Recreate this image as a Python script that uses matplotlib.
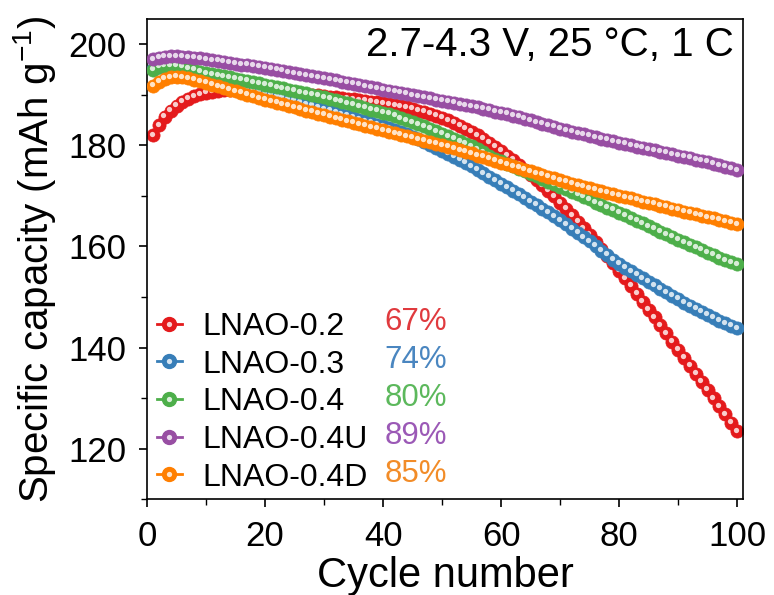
import matplotlib
matplotlib.use("Agg")
import matplotlib.pyplot as plt
from matplotlib.lines import Line2D
from matplotlib.legend_handler import HandlerTuple
from matplotlib.transforms import offset_copy
from matplotlib.ticker import MultipleLocator
import matplotlib.colors as mc

plt.rcParams['font.family'] = ['Liberation Sans', 'DejaVu Sans']

cycles = list(range(1, 101))

cap_02 = [182.0, 184.0, 185.6, 186.8, 187.8, 188.6, 189.2, 189.7, 190.1, 190.4,
          190.6, 190.8, 190.9, 191.0, 191.0, 191.0, 191.0, 190.9, 190.9, 190.8,
          190.7, 190.6, 190.5, 190.4, 190.3, 190.2, 190.1, 190.0, 189.9, 189.7,
          189.6, 189.5, 189.3, 189.2, 189.1, 188.9, 188.8, 188.6, 188.5, 188.3,
          188.1, 187.9, 187.7, 187.5, 187.2, 186.9, 186.6, 186.3, 185.9, 185.5,
          185.0, 184.5, 183.9, 183.3, 182.7, 182.0, 181.3, 180.5, 179.7, 178.9,
          178.0, 177.1, 176.2, 175.2, 174.2, 173.2, 172.1, 171.0, 169.9, 168.7,
          167.5, 166.2, 164.9, 163.6, 162.3, 160.9, 159.5, 158.1, 156.7, 155.2,
          153.7, 152.2, 150.6, 149.1, 147.5, 146.0, 144.4, 142.8, 141.2, 139.6,
          138.0, 136.4, 134.8, 133.2, 131.6, 130.0, 128.4, 126.8, 125.1, 123.4]

cap_03 = [195.2, 195.5, 195.6, 195.5, 195.3, 195.0, 194.7, 194.3, 193.9, 193.5,
          193.2, 192.9, 192.5, 192.2, 191.9, 191.5, 191.2, 190.9, 190.6, 190.3,
          190.0, 189.7, 189.4, 189.1, 188.8, 188.4, 188.1, 187.8, 187.5, 187.1,
          186.8, 186.5, 186.1, 185.8, 185.5, 185.1, 184.8, 184.5, 184.1, 183.8,
          183.4, 183.0, 182.6, 182.2, 181.7, 181.2, 180.7, 180.1, 179.5, 178.9,
          178.3, 177.7, 177.1, 176.5, 175.9, 175.2, 174.5, 173.8, 173.1, 172.4,
          171.7, 171.0, 170.3, 169.6, 168.9, 168.2, 167.5, 166.8, 166.0, 165.2,
          164.4, 163.5, 162.7, 161.8, 161.0, 160.1, 159.2, 158.3, 157.4, 156.6,
          155.8, 155.1, 154.4, 153.7, 153.0, 152.3, 151.6, 150.9, 150.2, 149.6,
          148.9, 148.3, 147.7, 147.1, 146.5, 145.9, 145.3, 144.8, 144.3, 143.8]

cap_04 = [195.0, 195.5, 195.8, 195.8, 195.7, 195.5, 195.2, 194.9, 194.6, 194.3,
          194.1, 193.9, 193.7, 193.5, 193.2, 193.0, 192.8, 192.5, 192.3, 192.0,
          191.8, 191.5, 191.3, 191.0, 190.8, 190.5, 190.3, 190.0, 189.8, 189.5,
          189.2, 188.9, 188.6, 188.3, 188.0, 187.7, 187.4, 187.1, 186.8, 186.5,
          186.2, 185.8, 185.4, 185.0, 184.6, 184.2, 183.8, 183.3, 182.8, 182.3,
          181.8, 181.3, 180.8, 180.3, 179.8, 179.2, 178.6, 178.0, 177.4, 176.9,
          176.4, 175.9, 175.4, 174.9, 174.4, 173.9, 173.3, 172.8, 172.3, 171.8,
          171.3, 170.8, 170.3, 169.8, 169.3, 168.7, 168.2, 167.7, 167.2, 166.7,
          166.2, 165.6, 165.1, 164.6, 164.0, 163.5, 162.9, 162.4, 161.9, 161.3,
          160.8, 160.3, 159.8, 159.3, 158.8, 158.3, 157.8, 157.3, 156.9, 156.5]

cap_04U = [197.0, 197.3, 197.5, 197.6, 197.6, 197.5, 197.4, 197.3, 197.2, 197.0,
           196.8, 196.7, 196.5, 196.4, 196.2, 196.0, 195.9, 195.7, 195.5, 195.3,
           195.1, 194.9, 194.7, 194.5, 194.3, 194.1, 193.9, 193.7, 193.5, 193.3,
           193.1, 192.9, 192.6, 192.4, 192.2, 192.0, 191.7, 191.5, 191.3, 191.0,
           190.8, 190.6, 190.4, 190.2, 189.9, 189.7, 189.5, 189.3, 189.0, 188.8,
           188.6, 188.4, 188.1, 187.9, 187.7, 187.5, 187.2, 187.0, 186.7, 186.5,
           186.2, 185.9, 185.6, 185.3, 185.0, 184.6, 184.3, 184.0, 183.7, 183.3,
           183.0, 182.7, 182.4, 182.2, 181.9, 181.6, 181.3, 181.1, 180.8, 180.5,
           180.3, 180.0, 179.7, 179.5, 179.2, 179.0, 178.7, 178.5, 178.2, 178.0,
           177.7, 177.5, 177.2, 176.9, 176.7, 176.4, 176.1, 175.8, 175.5, 175.1]

cap_04D = [191.8, 192.6, 193.2, 193.5, 193.6, 193.5, 193.3, 193.0, 192.7, 192.4,
           192.0, 191.7, 191.4, 191.0, 190.7, 190.4, 190.0, 189.7, 189.3, 189.0,
           188.7, 188.4, 188.1, 187.8, 187.5, 187.2, 186.9, 186.6, 186.3, 186.0,
           185.7, 185.4, 185.1, 184.8, 184.5, 184.2, 183.9, 183.6, 183.3, 183.0,
           182.7, 182.4, 182.1, 181.8, 181.5, 181.2, 180.9, 180.6, 180.3, 180.0,
           179.7, 179.4, 179.0, 178.7, 178.4, 178.0, 177.7, 177.3, 177.0, 176.6,
           176.3, 175.9, 175.6, 175.2, 174.9, 174.5, 174.2, 173.8, 173.5, 173.1,
           172.8, 172.4, 172.1, 171.8, 171.5, 171.2, 170.9, 170.6, 170.3, 170.0,
           169.7, 169.5, 169.2, 168.9, 168.6, 168.4, 168.1, 167.8, 167.5, 167.2,
           166.9, 166.7, 166.4, 166.1, 165.8, 165.6, 165.3, 165.0, 164.7, 164.4]

labels = ['LNAO-0.2', 'LNAO-0.3', 'LNAO-0.4', 'LNAO-0.4U', 'LNAO-0.4D']
retention = ['67%', '74%', '80%', '89%', '85%']
colors = ['#e41a1c', '#377eb8', '#4daf4a', '#984ea3', '#ff7f00']
pct_colors = ['#e03a3e', '#4a86c0', '#5cb85c', '#9b59b6', '#f28c28']
series = [cap_02, cap_03, cap_04, cap_04U, cap_04D]

fig = plt.figure(figsize=(7.74, 5.95), dpi=100)
ax = fig.add_axes([0.190, 0.161, 0.770, 0.807])

hl_trans = offset_copy(ax.transData, fig=fig, x=-1.3, y=1.6, units='dots')


def lighten(c, f):
    r, g, b = mc.to_rgb(c)
    return (r + (1 - r) * f, g + (1 - g) * f, b + (1 - b) * f)


handles = []
for i, (vals, col, lab) in enumerate(zip(series, colors, labels)):
    z = 2 + i * 2
    ax.plot(cycles, vals, '-', color=col, lw=2, marker='o', ms=9.5,
            mfc=col, mec=col, mew=0.5, zorder=z)
    ax.plot(cycles, vals, 'o', ms=3.8, mfc=lighten(col, 0.78), mec='none',
            transform=hl_trans, zorder=z + 1)
    h1 = Line2D([], [], color=col, lw=2.0, marker='o', ms=10, mfc=col, mec=col)
    h2 = Line2D([], [], ls='none', marker='o', ms=3.8, mfc=lighten(col, 0.8), mec='none')
    handles.append((h1, h2))

leg = ax.legend(handles, labels, handler_map={tuple: HandlerTuple(ndivide=1)},
                loc='lower left', bbox_to_anchor=(0.0, -0.006), frameon=False,
                fontsize=23, handlelength=0.8, handletextpad=0.62,
                labelspacing=0.24, borderpad=0.3, borderaxespad=0)

pct_y = [0.369, 0.290, 0.210, 0.131, 0.052]
for txt, col, yy in zip(retention, pct_colors, pct_y):
    ax.text(0.503, yy, txt, color=col, fontsize=22.5, ha='right', va='center',
            transform=ax.transAxes)

ax.text(0.985, 0.945, '2.7-4.3 V, 25 \u00b0C, 1 C', fontsize=29, ha='right',
        va='center', transform=ax.transAxes)

ax.set_xlim(0, 101)
ax.set_ylim(110, 205)
ax.xaxis.set_major_locator(MultipleLocator(20))
ax.xaxis.set_minor_locator(MultipleLocator(10))
ax.yaxis.set_major_locator(MultipleLocator(20))
ax.yaxis.set_minor_locator(MultipleLocator(10))
ax.tick_params(which='major', direction='out', length=6, width=1.2, labelsize=25, pad=9)
ax.tick_params(which='minor', direction='out', length=4, width=1.0)
for s in ax.spines.values():
    s.set_linewidth(1.2)

ax.set_xlabel('Cycle number', fontsize=30, labelpad=2)
ax.set_ylabel('Specific capacity (mAh g$^{\\mathregular{-1}}$)', fontsize=29, labelpad=7)

fig.savefig('out.png', dpi=100)
